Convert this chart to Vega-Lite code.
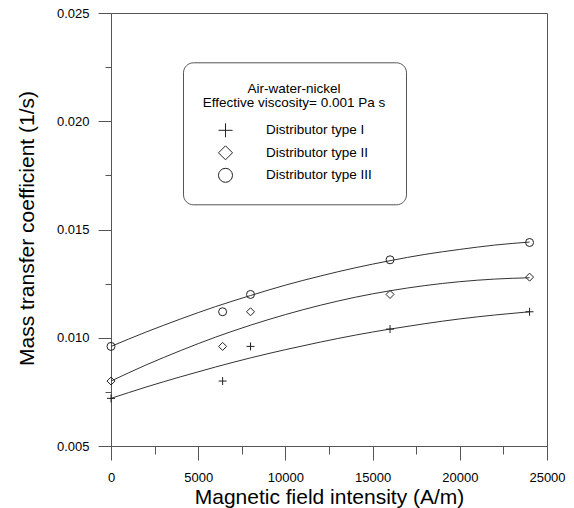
{
  "$schema": "https://vega.github.io/schema/vega-lite/v6.json",
  "autosize": "none",
  "width": 436,
  "height": 433,
  "padding": {"left": 111, "top": 13, "right": 27, "bottom": 62},
  "background": "white",
  "config": {
    "view": {"stroke": "#555", "strokeWidth": 1},
    "font": "Liberation Sans",
    "axis": {"grid": false, "domainColor": "#555", "tickColor": "#555", "labelColor": "#000", "titleColor": "#000", "labelFont": "Liberation Sans", "titleFont": "Liberation Sans", "titleFontWeight": "normal", "labelFontSize": 13, "titleFontSize": 21}
  },
  "datasets": {
    "points": [
      {"field": 0, "k": 0.0072, "type": "Distributor type I"},
      {"field": 6400, "k": 0.0080, "type": "Distributor type I"},
      {"field": 8000, "k": 0.0096, "type": "Distributor type I"},
      {"field": 16000, "k": 0.0104, "type": "Distributor type I"},
      {"field": 24000, "k": 0.0112, "type": "Distributor type I"},
      {"field": 0, "k": 0.0080, "type": "Distributor type II"},
      {"field": 6400, "k": 0.0096, "type": "Distributor type II"},
      {"field": 8000, "k": 0.0112, "type": "Distributor type II"},
      {"field": 16000, "k": 0.0120, "type": "Distributor type II"},
      {"field": 24000, "k": 0.0128, "type": "Distributor type II"},
      {"field": 0, "k": 0.0096, "type": "Distributor type III"},
      {"field": 6400, "k": 0.0112, "type": "Distributor type III"},
      {"field": 8000, "k": 0.0120, "type": "Distributor type III"},
      {"field": 16000, "k": 0.0136, "type": "Distributor type III"},
      {"field": 24000, "k": 0.0144, "type": "Distributor type III"}
    ],
    "curves": [
      {"field": 0, "k": 0.00720, "type": "Distributor type I"},
      {"field": 2000, "k": 0.00772, "type": "Distributor type I"},
      {"field": 4000, "k": 0.00820, "type": "Distributor type I"},
      {"field": 6000, "k": 0.00865, "type": "Distributor type I"},
      {"field": 8000, "k": 0.00907, "type": "Distributor type I"},
      {"field": 10000, "k": 0.00945, "type": "Distributor type I"},
      {"field": 12000, "k": 0.00980, "type": "Distributor type I"},
      {"field": 14000, "k": 0.01012, "type": "Distributor type I"},
      {"field": 16000, "k": 0.01040, "type": "Distributor type I"},
      {"field": 18000, "k": 0.01065, "type": "Distributor type I"},
      {"field": 20000, "k": 0.01087, "type": "Distributor type I"},
      {"field": 22000, "k": 0.01105, "type": "Distributor type I"},
      {"field": 24000, "k": 0.01120, "type": "Distributor type I"},
      {"field": 0, "k": 0.00800, "type": "Distributor type II"},
      {"field": 2000, "k": 0.00874, "type": "Distributor type II"},
      {"field": 4000, "k": 0.00941, "type": "Distributor type II"},
      {"field": 6000, "k": 0.01003, "type": "Distributor type II"},
      {"field": 8000, "k": 0.01058, "type": "Distributor type II"},
      {"field": 10000, "k": 0.01107, "type": "Distributor type II"},
      {"field": 12000, "k": 0.01150, "type": "Distributor type II"},
      {"field": 14000, "k": 0.01187, "type": "Distributor type II"},
      {"field": 16000, "k": 0.01217, "type": "Distributor type II"},
      {"field": 18000, "k": 0.01241, "type": "Distributor type II"},
      {"field": 20000, "k": 0.01259, "type": "Distributor type II"},
      {"field": 22000, "k": 0.01271, "type": "Distributor type II"},
      {"field": 24000, "k": 0.01277, "type": "Distributor type II"},
      {"field": 0, "k": 0.00960, "type": "Distributor type III"},
      {"field": 2000, "k": 0.01026, "type": "Distributor type III"},
      {"field": 4000, "k": 0.01087, "type": "Distributor type III"},
      {"field": 6000, "k": 0.01144, "type": "Distributor type III"},
      {"field": 8000, "k": 0.01195, "type": "Distributor type III"},
      {"field": 10000, "k": 0.01243, "type": "Distributor type III"},
      {"field": 12000, "k": 0.01285, "type": "Distributor type III"},
      {"field": 14000, "k": 0.01323, "type": "Distributor type III"},
      {"field": 16000, "k": 0.01356, "type": "Distributor type III"},
      {"field": 18000, "k": 0.01385, "type": "Distributor type III"},
      {"field": 20000, "k": 0.01408, "type": "Distributor type III"},
      {"field": 22000, "k": 0.01428, "type": "Distributor type III"},
      {"field": 24000, "k": 0.01442, "type": "Distributor type III"}
    ]
  },
  "encoding": {
    "x": {
      "field": "field", "type": "quantitative",
      "scale": {"domain": [0, 25000], "nice": false, "zero": false},
      "axis": {
        "title": "Magnetic field intensity (A/m)",
        "values": [0, 2500, 5000, 7500, 10000, 12500, 15000, 17500, 20000, 22500, 25000],
        "labelExpr": "datum.value % 5000 === 0 ? format(datum.value, 'd') : ''",
        "tickSize": {"condition": {"test": "datum.value % 5000 === 0", "value": 14}, "value": 8},
        "labelPadding": 11,
        "labelFlush": false,
        "labelOverlap": false,
        "titleX": 218,
        "titleY": 57,
        "titleAlign": "center",
        "titleBaseline": "alphabetic"
      }
    },
    "y": {
      "field": "k", "type": "quantitative",
      "scale": {"domain": [0.005, 0.025], "nice": false, "zero": false},
      "axis": {
        "title": "Mass transfer coefficient (1/s)",
        "values": [0.005, 0.0075, 0.01, 0.0125, 0.015, 0.0175, 0.02, 0.0225, 0.025],
        "labelExpr": "round(datum.value * 1000) % 5 === 0 ? format(datum.value, '.3f') : ''",
        "tickSize": {"condition": {"test": "round(datum.value * 1000) % 5 === 0", "value": 13}, "value": 6},
        "labelPadding": 9,
        "labelFlush": false,
        "labelOverlap": false,
        "titleAngle": -90,
        "titleX": -78,
        "titleY": 215,
        "titleAlign": "center",
        "titleBaseline": "alphabetic"
      }
    }
  },
  "layer": [
    {
      "data": {"name": "curves"},
      "mark": {"type": "line", "color": "#333", "strokeWidth": 1, "interpolate": "monotone"},
      "encoding": {"detail": {"field": "type"}}
    },
    {
      "data": {"name": "points"},
      "mark": {"type": "point", "filled": false, "color": "#222", "strokeWidth": 1, "size": 64, "opacity": 1},
      "encoding": {
        "shape": {
          "field": "type", "type": "nominal",
          "scale": {"domain": ["Distributor type I", "Distributor type II", "Distributor type III"], "range": ["M-1,0L1,0M0,-1L0,1", "diamond", "circle"]},
          "legend": {
            "title": ["Air-water-nickel", "Effective viscosity= 0.001 Pa s"],
            "orient": "none",
            "legendX": 72,
            "legendY": 49.3,
            "padding": 20,
            "strokeColor": "#555",
            "cornerRadius": 10,
            "fillColor": "white",
            "titleFont": "Liberation Sans",
            "titleFontSize": 13.5,
            "titleFontWeight": "normal",
            "titleColor": "#000",
            "titleAnchor": "middle",
            "titleAlign": "center",
            "titleLineHeight": 14,
            "titlePadding": 13,
            "titleLimit": 600,
            "labelFont": "Liberation Sans",
            "labelFontSize": 13.5,
            "labelColor": "#000",
            "labelLimit": 400,
            "labelOffset": 33,
            "symbolOffset": 1,
            "symbolSize": 196,
            "symbolStrokeColor": "#222",
            "symbolStrokeWidth": 1,
            "symbolFillColor": "transparent",
            "rowPadding": 3.5
          }
        }
      }
    }
  ]
}
